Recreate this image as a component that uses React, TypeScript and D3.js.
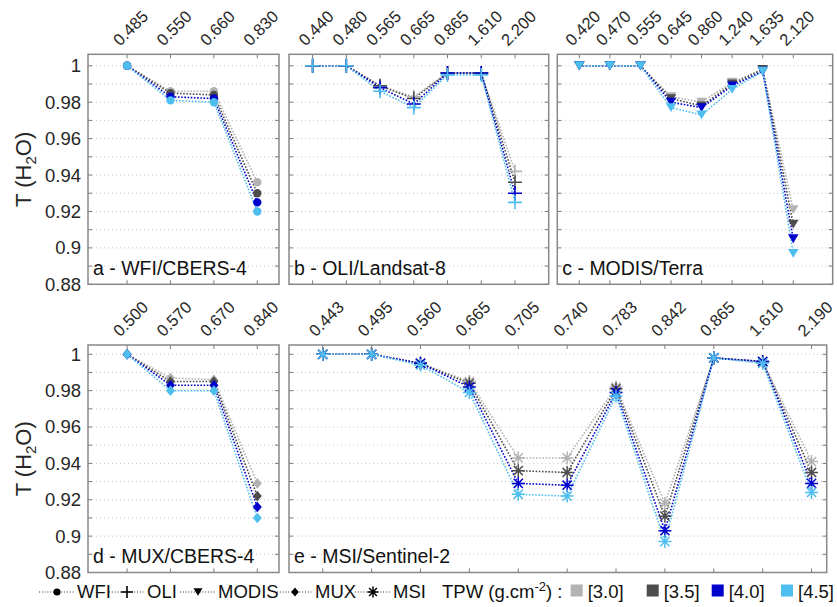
import React from "react";
import * as d3 from "d3";

// TPW classes (g.cm-2) and their colours
const tpwLabels = ["[3.0]", "[3.5]", "[4.0]", "[4.5]"];
const tpwColors = ["#b3b3b3", "#4d4d4d", "#0000cd", "#4dbeee"];

const sensorNames = ["WFI", "OLI", "MODIS", "MUX", "MSI"];
const sensorMarkers = ["circle", "plus", "triangle", "diamond", "asterisk"];

// band centres (um) and water vapour transmittance, one row per TPW class
const wfiBands = ["0.485", "0.550", "0.660", "0.830"];
const wfiT = [
  [1, 0.986, 0.986, 0.936],
  [1, 0.985, 0.984, 0.930],
  [1, 0.983, 0.982, 0.925],
  [1, 0.981, 0.98, 0.92],
];

const oliBands = ["0.440", "0.480", "0.565", "0.665", "0.865", "1.610", "2.200"];
const oliT = [
  [1, 1, 0.989, 0.983, 0.996, 0.996, 0.942],
  [1, 1, 0.989, 0.982, 0.996, 0.996, 0.936],
  [1, 1, 0.988, 0.979, 0.996, 0.996, 0.93],
  [1, 1, 0.986, 0.977, 0.995, 0.995, 0.925],
];

const modisBands = ["0.420", "0.470", "0.555", "0.645", "0.860", "1.240", "1.635", "2.120"];
const modisT = [
  [1, 1, 1, 0.983, 0.98, 0.991, 0.998, 0.921],
  [1, 1, 1, 0.982, 0.978, 0.99, 0.998, 0.913],
  [1, 1, 1, 0.98, 0.977, 0.989, 0.997, 0.905],
  [1, 1, 1, 0.977, 0.973, 0.987, 0.997, 0.897],
];

const muxBands = ["0.500", "0.570", "0.670", "0.840"];
const muxT = [
  [1, 0.987, 0.986, 0.929],
  [1, 0.985, 0.985, 0.922],
  [1, 0.983, 0.983, 0.916],
  [1, 0.98, 0.98, 0.91],
];

const msiBands = ["0.443", "0.495", "0.560", "0.665", "0.705", "0.740", "0.783", "0.842", "0.865", "1.610", "2.190"];
const msiT = [
  [1, 1, 0.995, 0.985, 0.943, 0.943, 0.982, 0.918, 0.998, 0.996, 0.941],
  [1, 1, 0.995, 0.984, 0.936, 0.935, 0.981, 0.911, 0.998, 0.996, 0.935],
  [1, 1, 0.995, 0.982, 0.929, 0.928, 0.979, 0.903, 0.998, 0.996, 0.929],
  [1, 1, 0.994, 0.979, 0.923, 0.922, 0.977, 0.897, 0.998, 0.995, 0.924],
];

const yTickLabels = [0.88, 0.9, 0.92, 0.94, 0.96, 0.98, 1];
const yGrid = [0.88, 0.89, 0.9, 0.91, 0.92, 0.93, 0.94, 0.95, 0.96, 0.97, 0.98, 0.99, 1];

const FONT = "'Liberation Sans', Arial, Helvetica, sans-serif";
const W = 837;
const H = 607;

const rows = [
  { top: 54.3, bottom: 284.3, yMax: 1.0063 },
  { top: 345, bottom: 572.5, yMax: 1.0051 },
];

const panels = [
  { label: "a - WFI/CBERS-4", bands: wfiBands, values: wfiT, marker: "circle", row: 0, x0: 88, x1: 279, dom: [0.1, 4.5], yAxis: true },
  { label: "b - OLI/Landsat-8", bands: oliBands, values: oliT, marker: "plus", row: 0, x0: 289, x1: 548.7, dom: [0.3, 8], yAxis: false },
  { label: "c - MODIS/Terra", bands: modisBands, values: modisT, marker: "triangle", row: 0, x0: 557.3, x1: 832.7, dom: [0.28, 9.29], yAxis: false },
  { label: "d - MUX/CBERS-4", bands: muxBands, values: muxT, marker: "diamond", row: 1, x0: 88, x1: 279, dom: [0.1, 4.5], yAxis: true },
  { label: "e - MSI/Sentinel-2", bands: msiBands, values: msiT, marker: "asterisk", row: 1, x0: 289, x1: 826.7, dom: [0.31, 11.31], yAxis: false },
];

function Marker({ type, x, y, color, s = 1 }: { type: string; x: number; y: number; color: string; s?: number }) {
  if (type === "circle") return <circle cx={x} cy={y} r={4.2 * s} fill={color} />;
  if (type === "plus") {
    const a = 7 * s;
    return (
      <path d={`M${x - a},${y}H${x + a}M${x},${y - a}V${y + a}`} stroke={color} strokeWidth={1.6} fill="none" />
    );
  }
  if (type === "triangle") {
    const w = 5.3 * s;
    const h = 4.4 * s;
    return <path d={`M${x - w},${y - h}L${x + w},${y - h}L${x},${y + h}Z`} fill={color} />;
  }
  if (type === "diamond") {
    const w = 4.5 * s;
    const h = 5.3 * s;
    return <path d={`M${x},${y - h}L${x + w},${y}L${x},${y + h}L${x - w},${y}Z`} fill={color} />;
  }
  const a = 6.5 * s;
  const d = a * 0.707;
  return (
    <path
      d={`M${x - a},${y}H${x + a}M${x},${y - a}V${y + a}M${x - d},${y - d}L${x + d},${y + d}M${x - d},${y + d}L${x + d},${y - d}`}
      stroke={color}
      strokeWidth={1.5}
      fill="none"
    />
  );
}

function Panel({ p }: { p: any }) {
  const row = rows[p.row];
  const x = d3.scaleLinear().domain(p.dom).range([p.x0, p.x1]);
  const y = d3.scaleLinear().domain([0.88, row.yMax]).range([row.bottom, row.top]);
  const line = d3
    .line<number>()
    .x((_, i) => x(i + 1))
    .y((v) => y(v));
  const tickLen = 4;
  return (
    <g>
      {yGrid.map((g) => (
        <line key={"g" + g} x1={p.x0} x2={p.x1} y1={y(g)} y2={y(g)} stroke="#c4c4c4" strokeWidth={1} strokeDasharray="1 3" />
      ))}
      {p.values.map((vals: number[], k: number) => (
        <path key={"l" + k} d={line(vals) || ""} fill="none" stroke={tpwColors[k]} strokeWidth={1.6} strokeDasharray="1.6 1.6" />
      ))}
      {p.values.map((vals: number[], k: number) =>
        vals.map((v, i) => <Marker key={"m" + k + "-" + i} type={p.marker} x={x(i + 1)} y={y(v)} color={tpwColors[k]} />)
      )}
      {/* ticks */}
      {yGrid.map((g) => (
        <path
          key={"t" + g}
          d={`M${p.x0},${y(g)}h${tickLen}M${p.x1},${y(g)}h${-tickLen}`}
          stroke="#7a7a7a"
          strokeWidth={1}
        />
      ))}
      {p.bands.map((b: string, i: number) => (
        <path
          key={"xt" + b}
          d={`M${x(i + 1)},${row.top}v${tickLen}M${x(i + 1)},${row.bottom}v${-tickLen}`}
          stroke="#7a7a7a"
          strokeWidth={1}
        />
      ))}
      <rect x={p.x0} y={row.top} width={p.x1 - p.x0} height={row.bottom - row.top} fill="none" stroke="#888" strokeWidth={1.5} />
      {/* top band labels */}
      {p.bands.map((b: string, i: number) => (
        <text
          key={"xl" + b}
          transform={`translate(${x(i + 1) - 7},${row.top - 7.5}) rotate(-45)`}
          fontSize={16.5}
          fill="#262626"
          fontFamily={FONT}
        >
          {b}
        </text>
      ))}
      {p.yAxis &&
        yTickLabels.map((t) => (
          <text key={"yl" + t} x={p.x0 - 7} y={y(t)} dy="0.35em" textAnchor="end" fontSize={18.5} fill="#262626" fontFamily={FONT}>
            {d3.format("~g")(t)}
          </text>
        ))}
      {p.yAxis && (
        <text
          transform={`translate(31,${(row.top + row.bottom) / 2}) rotate(-90)`}
          textAnchor="middle"
          fontSize={22}
          fill="#262626"
          fontFamily={FONT}
        >
          T (H
          <tspan dy="5" fontSize={15}>
            2
          </tspan>
          <tspan dy="-5">O)</tspan>
        </text>
      )}
      <text x={p.x0 + 5} y={row.bottom - 9.5} fontSize={19.5} fill="#111" fontFamily={FONT}>
        {p.label}
      </text>
    </g>
  );
}

// legend layout (x positions of entries)
const legendSensorX = [39, 109, 180, 277, 355];
const legendTpwX = [570.7, 646.7, 711.7, 781];

function Legend() {
  const cy = 592;
  const base = 598.3;
  return (
    <g fontFamily={FONT} fontSize={18.5} fill="#111">
      {sensorNames.map((n, i) => {
        const lx = legendSensorX[i];
        return (
          <g key={n}>
            <line x1={lx} x2={lx + 36} y1={cy} y2={cy} stroke="#333" strokeWidth={1} strokeDasharray="1 1.8" />
            <Marker type={sensorMarkers[i]} x={lx + 18} y={cy} color="#000" s={0.85} />
            <text x={lx + 38} y={base}>
              {n}
            </text>
          </g>
        );
      })}
      <text x={442} y={base}>
        TPW (g.cm
        <tspan dy="-7" fontSize={13}>
          -2
        </tspan>
        <tspan dy="7">) :</tspan>
      </text>
      {tpwLabels.map((t, k) => (
        <g key={t}>
          <rect x={legendTpwX[k]} y={cy - 7.5} width={12} height={12} fill={tpwColors[k]} />
          <text x={legendTpwX[k] + 17} y={base}>
            {t}
          </text>
        </g>
      ))}
    </g>
  );
}

export default function App() {
  return (
    <svg width={W} height={H} style={{ position: "absolute", left: 0, top: 0, background: "#fff" }}>
      <rect width={W} height={H} fill="#fff" />
      {panels.map((p) => (
        <Panel key={p.label} p={p} />
      ))}
      <Legend />
    </svg>
  );
}
